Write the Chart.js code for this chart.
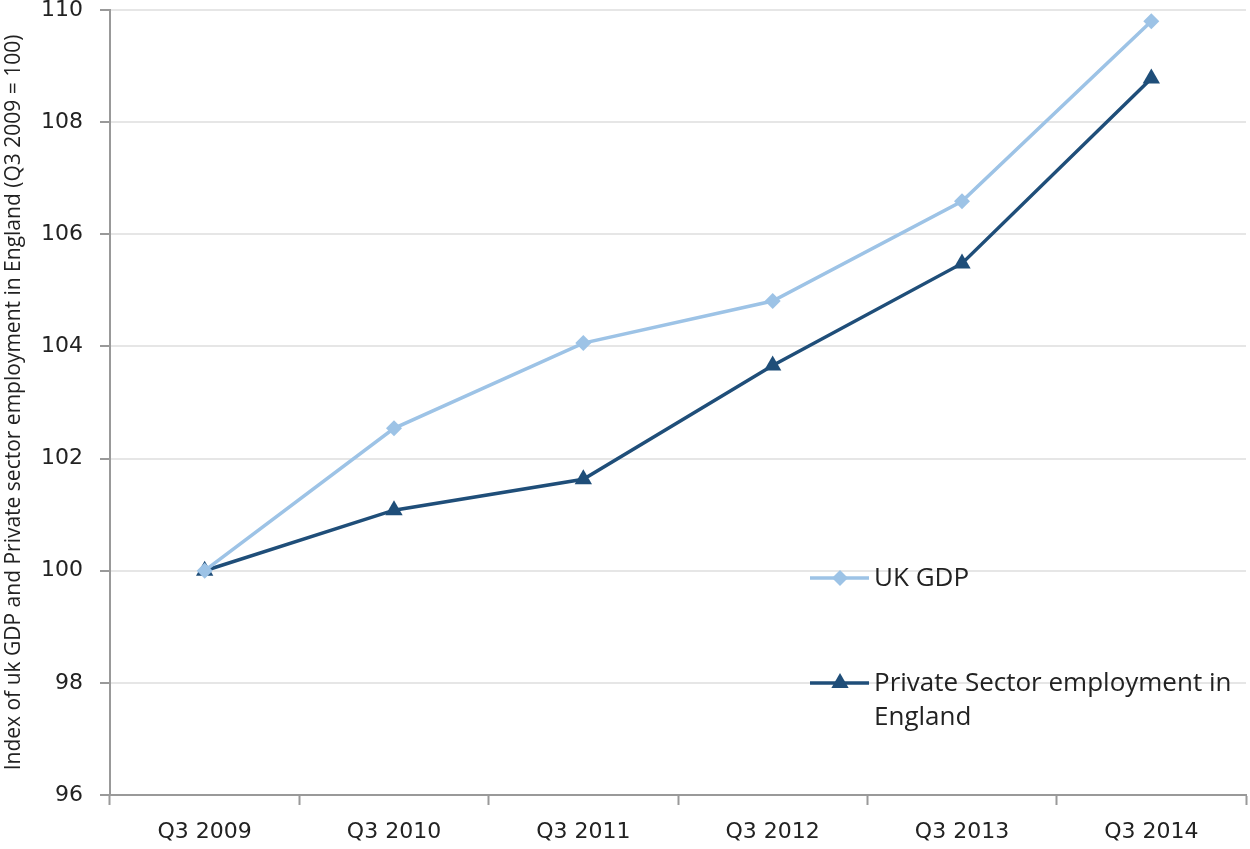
<!DOCTYPE html>
<html><head><meta charset="utf-8">
<script src="https://cdn.jsdelivr.net/npm/chart.js@4"></script>
<style>html,body{margin:0;padding:0;background:#fff}#wrap{width:1250px;height:849px}</style>
</head><body><div id="wrap"><canvas id="c" width="1250" height="849"></canvas></div>
<script>
const categories = ["Q3 2009","Q3 2010","Q3 2011","Q3 2012","Q3 2013","Q3 2014"];
const gdpValues = [100, 102.54, 104.06, 104.81, 106.59, 109.8];
const privateValues = [100, 101.08, 101.63, 103.66, 105.48, 108.78];
const seriesNames = ["UK GDP", "Private Sector employment in England"];
const yTitle = "Index of uk GDP and Private sector employment in England (Q3 2009 = 100)";
const gdpColor = "#9dc3e6", privColor = "#1f4e79";

const legendPlugin = {
  id: 'customLegend',
  afterDraw(chart) {
    const ctx = chart.ctx;
    ctx.save();
    const items = [
      {y: 578, color: gdpColor, style: 'rectRot', r: 8, lines: ["UK GDP"]},
      {y: 683, color: privColor, style: 'triangle', r: 10, lines: ["Private Sector employment in", "England"]}
    ];
    items.forEach(it => {
      ctx.strokeStyle = it.color; ctx.lineWidth = 3.5;
      ctx.beginPath(); ctx.moveTo(810, it.y); ctx.lineTo(869, it.y); ctx.stroke();
      ctx.fillStyle = it.color;
      Chart.helpers.drawPoint(ctx, {pointStyle: it.style, radius: it.r, borderWidth: 0}, 840, it.y);
      ctx.fillStyle = '#222'; ctx.font = '26px "Open Sans", sans-serif';
      ctx.textBaseline = 'middle'; ctx.textAlign = 'left';
      it.lines.forEach((t, i) => ctx.fillText(t, 874, it.y + 1 + i * 34));
    });
    ctx.restore();
  }
};

new Chart(document.getElementById('c'), {
  type: 'line',
  data: {
    labels: categories,
    datasets: [
      {label: seriesNames[0], data: gdpValues, borderColor: gdpColor, backgroundColor: gdpColor,
       borderWidth: 3.5, pointStyle: 'rectRot', pointRadius: 8, pointBorderWidth: 0, tension: 0},
      {label: seriesNames[1], data: privateValues, borderColor: privColor, backgroundColor: privColor,
       borderWidth: 3.5, pointStyle: 'triangle', pointRadius: 10, pointBorderWidth: 0, tension: 0}
    ]
  },
  options: {
    responsive: false, animation: false,
    layout: {autoPadding: false, padding: {top: 10, right: 4, left: 0, bottom: 0}},
    plugins: {legend: {display: false}, tooltip: {enabled: false}},
    scales: {
      x: {
        offset: true,
        grid: {offset: true, drawOnChartArea: false, tickLength: 10, tickColor: '#999', tickWidth: 2},
        border: {color: '#999', width: 2},
        ticks: {color: '#222', font: {family: '"DejaVu Sans", sans-serif', size: 22}, padding: 14, maxRotation: 0},
        afterFit(s) { s.height = 54; s.paddingLeft = 0; s.paddingRight = 0; }
      },
      y: {
        min: 96, max: 110,
        ticks: {stepSize: 2, color: '#222', font: {family: '"DejaVu Sans", sans-serif', size: 22}, padding: 17},
        grid: {color: '#e6e6e6', lineWidth: 2, tickLength: 10, tickColor: '#999', tickWidth: 2},
        border: {color: '#999', width: 2},
        title: {display: true, text: yTitle, color: '#222', font: {family: '"Open Sans", sans-serif', size: 21}, padding: {top: 1, bottom: 0}},
        afterFit(s) { s.width = 110; s.paddingTop = 0; s.paddingBottom = 0; }
      }
    }
  },
  plugins: [legendPlugin]
});
</script></body></html>
